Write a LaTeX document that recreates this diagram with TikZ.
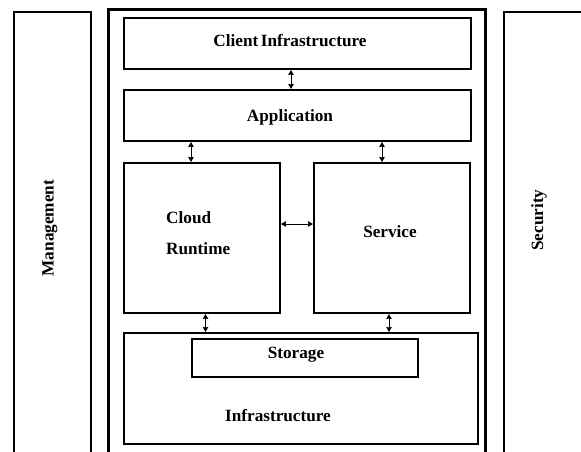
\documentclass[tikz,border=0pt]{standalone}
\usepackage{fontspec}
\setmainfont{Liberation Serif}
\usetikzlibrary{arrows.meta}
\begin{document}
\begin{tikzpicture}[x=1pt,y=-1pt,
  box/.style={draw,line width=2pt,inner sep=0pt},
  lbl/.style={font=\fontsize{17.2}{20}\selectfont\bfseries,inner sep=0pt},
  arr/.style={line width=1pt,{Stealth[length=5pt,width=5.5pt,inset=0.5pt]}-{Stealth[length=5pt,width=5.5pt,inset=0.5pt]}}]
\useasboundingbox (0,0) rectangle (581,452);
\fill[white] (0,0) rectangle (581,452);
% side and main frames
\node[draw,line width=1.5pt,minimum width=77,minimum height=468,inner sep=0pt] (mgmt) at (52.5,246) {};
\node[draw,line width=1.5pt,minimum width=146,minimum height=468,inner sep=0pt] (sec) at (577,246) {};
\node[draw,line width=3pt,minimum width=377,minimum height=470,inner sep=0pt] (main) at (296.5,245) {};
% inner boxes
\node[box,minimum width=347,minimum height=51] (client) at (297.5,43.5) {};
\node[box,minimum width=347,minimum height=51] (app) at (297.5,115.5) {};
\node[box,minimum width=156,minimum height=150] (cloud) at (202,238) {};
\node[box,minimum width=156,minimum height=150] (service) at (392,238) {};
\node[box,minimum width=354,minimum height=111] (infra) at (301,388.5) {};
\node[box,minimum width=226,minimum height=38] (storage) at (304.5,358) {};
% labels
\node[lbl] (tclient) at (290,41) {Client\kern2.5pt Infrastructure};
\node[lbl] (tapp) at (290,117) {Application};
\node[lbl,anchor=west] (tcloud) at (166,218) {Cloud};
\node[lbl,anchor=west] (truntime) at (166,249) {Runtime};
\node[lbl] (tservice) at (390,232) {Service};
\node[lbl] (tstorage) at (296,355) {Storage};
\node[lbl] (tinfra) at (278,416) {Infrastructure};
\node[lbl,rotate=90] (tmgmt) at (50,228) {Management};
\node[lbl,rotate=90] (tsec) at (539,220) {Security};
% connectors
\draw[arr] ([xshift=-6.5pt]client.south) -- ([xshift=-6.5pt]app.north);
\draw[arr] ([xshift=-106.5pt]app.south) -- ([xshift=-11pt]cloud.north);
\draw[arr] ([xshift=84.5pt]app.south) -- ([xshift=-10pt]service.north);
\draw[arr] ([yshift=14pt]cloud.east) -- ([yshift=14pt]service.west);
\draw[arr] ([xshift=3.5pt]cloud.south) -- ([xshift=-95.5pt]infra.north);
\draw[arr] ([xshift=-3pt]service.south) -- ([xshift=88pt]infra.north);
\end{tikzpicture}
\end{document}
